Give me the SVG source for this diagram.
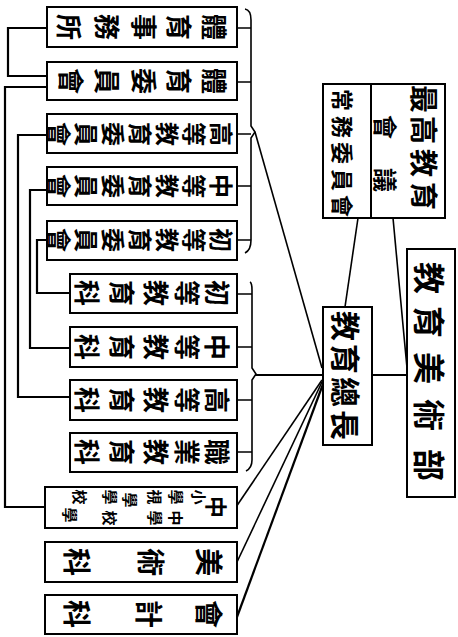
<svg xmlns="http://www.w3.org/2000/svg" width="458" height="637" viewBox="0 0 458 637">
<style>
rect{fill:#fff;stroke:#000;stroke-width:2}
.ln{fill:none;stroke:#000;stroke-width:1.6}
.lk{fill:none;stroke:#000;stroke-width:2.2}
text{font-family:"Noto Sans CJK TC","Noto Sans CJK SC",sans-serif;font-weight:bold;text-anchor:middle;dominant-baseline:central;fill:#000}
.s26{font-size:26px}.s24{font-size:24px}.s28{font-size:28px}.s32{font-size:32px}.s30{font-size:30px}.s22{font-size:22px}.s16{font-size:15px}
</style>
<rect x="0" y="0" width="458" height="637" style="fill:#fff;stroke:none"/>
<g id="connectors">
<path class="lk" d="M47,28 H8 V76 H47"/>
<path class="lk" d="M47,87 H5 V507 H45"/>
<path class="lk" d="M47,135 H18 V397 H70"/>
<path class="lk" d="M47,190 H30 V348 H70"/>
<path class="lk" d="M47,240 H37 V293 H70"/>
<path class="ln" d="M245,9 Q251,10 251,20 V126 L255,132 L251,138 V240 Q251,250 245,253"/>
<path class="ln" d="M237,28 H251 M237,82 H251 M237,134 H251 M237,186 H251 M237,240 H251"/>
<path class="ln" d="M250,282 Q252,283 252,290 V368 L256,374 L252,380 V460 Q252,468 246,471"/>
<path class="ln" d="M237,294 H252 M237,347 H252 M237,400 H252 M237,452 H252"/>
<path class="ln" d="M255,132 L322,368"/>
<path class="lk" d="M255,375 H323"/>
<path class="ln" d="M322,380 L236,507"/>
<path class="ln" d="M322,382 L237,562"/>
<path class="lk" d="M323,384 L237,617"/>
<path class="ln" d="M358,218 L345,307"/>
<path class="ln" d="M393,218 L407,368"/>
<path class="lk" d="M372,375 H407"/>
</g>
<g id="n1"><rect x="47" y="7" width="190" height="40"/>
<text class="s26" transform="translate(215 27) rotate(90)">體</text><text class="s26" transform="translate(180 27) rotate(90)">育</text><text class="s26" transform="translate(145 27) rotate(90)">事</text><text class="s26" transform="translate(108 27) rotate(90)">務</text><text class="s26" transform="translate(70 27) rotate(90)">所</text></g>
<g id="n2"><rect x="47" y="62" width="190" height="38"/>
<text class="s26" transform="translate(215 81) rotate(90)">體</text><text class="s26" transform="translate(180 81) rotate(90)">育</text><text class="s26" transform="translate(145 81) rotate(90)">委</text><text class="s26" transform="translate(108 81) rotate(90)">員</text><text class="s26" transform="translate(72 81) rotate(90)">會</text></g>
<g id="n3"><rect x="47" y="114" width="190" height="39"/>
<text class="s24" transform="translate(222 134) rotate(90)">高</text><text class="s24" transform="translate(195 134) rotate(90)">等</text><text class="s24" transform="translate(168 134) rotate(90)">教</text><text class="s24" transform="translate(141 134) rotate(90)">育</text><text class="s24" transform="translate(114 134) rotate(90)">委</text><text class="s24" transform="translate(87 134) rotate(90)">員</text><text class="s24" transform="translate(60 134) rotate(90)">會</text></g>
<g id="n4"><rect x="47" y="167" width="190" height="38"/>
<text class="s24" transform="translate(222 186) rotate(90)">中</text><text class="s24" transform="translate(195 186) rotate(90)">等</text><text class="s24" transform="translate(168 186) rotate(90)">教</text><text class="s24" transform="translate(141 186) rotate(90)">育</text><text class="s24" transform="translate(114 186) rotate(90)">委</text><text class="s24" transform="translate(87 186) rotate(90)">員</text><text class="s24" transform="translate(60 186) rotate(90)">會</text></g>
<g id="n5"><rect x="47" y="221" width="190" height="39"/>
<text class="s24" transform="translate(222 240) rotate(90)">初</text><text class="s24" transform="translate(195 240) rotate(90)">等</text><text class="s24" transform="translate(168 240) rotate(90)">教</text><text class="s24" transform="translate(141 240) rotate(90)">育</text><text class="s24" transform="translate(114 240) rotate(90)">委</text><text class="s24" transform="translate(87 240) rotate(90)">員</text><text class="s24" transform="translate(60 240) rotate(90)">會</text></g>
<g id="n6"><rect x="70" y="274" width="167" height="39"/>
<text class="s26" transform="translate(218 293) rotate(90)">初</text><text class="s26" transform="translate(188 293) rotate(90)">等</text><text class="s26" transform="translate(157 293) rotate(90)">教</text><text class="s26" transform="translate(123 293) rotate(90)">育</text><text class="s26" transform="translate(88 293) rotate(90)">科</text></g>
<g id="n7"><rect x="70" y="327" width="167" height="40"/>
<text class="s26" transform="translate(218 347) rotate(90)">中</text><text class="s26" transform="translate(188 347) rotate(90)">等</text><text class="s26" transform="translate(157 347) rotate(90)">教</text><text class="s26" transform="translate(123 347) rotate(90)">育</text><text class="s26" transform="translate(88 347) rotate(90)">科</text></g>
<g id="n8"><rect x="70" y="380" width="167" height="40"/>
<text class="s26" transform="translate(218 400) rotate(90)">高</text><text class="s26" transform="translate(188 400) rotate(90)">等</text><text class="s26" transform="translate(157 400) rotate(90)">教</text><text class="s26" transform="translate(123 400) rotate(90)">育</text><text class="s26" transform="translate(88 400) rotate(90)">科</text></g>
<g id="n9"><rect x="70" y="433" width="167" height="39"/>
<text class="s26" transform="translate(218 452) rotate(90)">職</text><text class="s26" transform="translate(188 452) rotate(90)">業</text><text class="s26" transform="translate(157 452) rotate(90)">教</text><text class="s26" transform="translate(123 452) rotate(90)">育</text><text class="s26" transform="translate(88 452) rotate(90)">科</text></g>
<g id="n10"><rect x="45" y="487" width="192" height="41"/>
<text class="s22" transform="translate(218 507) rotate(90)">中</text>
<text class="s16" transform="translate(199 497) rotate(90)">小</text><text class="s16" transform="translate(176 497) rotate(90)">學</text>
<text class="s16" transform="translate(176 518) rotate(90)">中</text><text class="s16" transform="translate(155 518) rotate(90)">學</text>
<text class="s16" transform="translate(155 497) rotate(90)">視</text><text class="s16" transform="translate(130 500) rotate(90)">學</text>
<text class="s16" transform="translate(110 497) rotate(90)">學</text><text class="s16" transform="translate(110 518) rotate(90)">校</text>
<text class="s16" transform="translate(80 497) rotate(90)">校</text><text class="s16" transform="translate(70 515) rotate(90)">學</text></g>
<g id="n11"><rect x="45" y="542" width="192" height="40"/>
<text class="s28" transform="translate(210 562) rotate(90)">美</text><text class="s28" transform="translate(152 562) rotate(90)">術</text><text class="s28" transform="translate(78 562) rotate(90)">科</text></g>
<g id="n12"><rect x="45" y="595" width="192" height="39"/>
<text class="s28" transform="translate(210 614) rotate(90)">會</text><text class="s28" transform="translate(150 614) rotate(90)">計</text><text class="s28" transform="translate(78 614) rotate(90)">科</text></g>
<g id="n13"><rect x="323" y="84" width="122" height="134"/><path class="ln" d="M371,84 V218" style="stroke-width:2"/>
<text class="s28" transform="translate(425 99) rotate(90)">最</text><text class="s28" transform="translate(425 130) rotate(90)">高</text><text class="s28" transform="translate(425 163) rotate(90)">教</text><text class="s28" transform="translate(425 196) rotate(90)">育</text>
<text class="s24" transform="translate(386 127) rotate(90)">會</text><text class="s24" transform="translate(386 180) rotate(90)">議</text>
<text class="s22" transform="translate(344 100) rotate(90)">常</text><text class="s22" transform="translate(344 127) rotate(90)">務</text><text class="s22" transform="translate(344 153) rotate(90)">委</text><text class="s22" transform="translate(344 180) rotate(90)">員</text><text class="s22" transform="translate(344 206) rotate(90)">會</text></g>
<g id="n14"><rect x="323" y="307" width="49" height="138"/>
<text class="s30" transform="translate(347 326) rotate(90)">教</text><text class="s30" transform="translate(347 359) rotate(90)">育</text><text class="s30" transform="translate(347 392) rotate(90)">總</text><text class="s30" transform="translate(347 425) rotate(90)">長</text></g>
<g id="n15"><rect x="407" y="249" width="48" height="248"/>
<text class="s32" transform="translate(431 278) rotate(90)">教</text><text class="s32" transform="translate(431 322) rotate(90)">育</text><text class="s32" transform="translate(431 368) rotate(90)">美</text><text class="s32" transform="translate(431 415) rotate(90)">術</text><text class="s32" transform="translate(431 465) rotate(90)">部</text></g>
</svg>
